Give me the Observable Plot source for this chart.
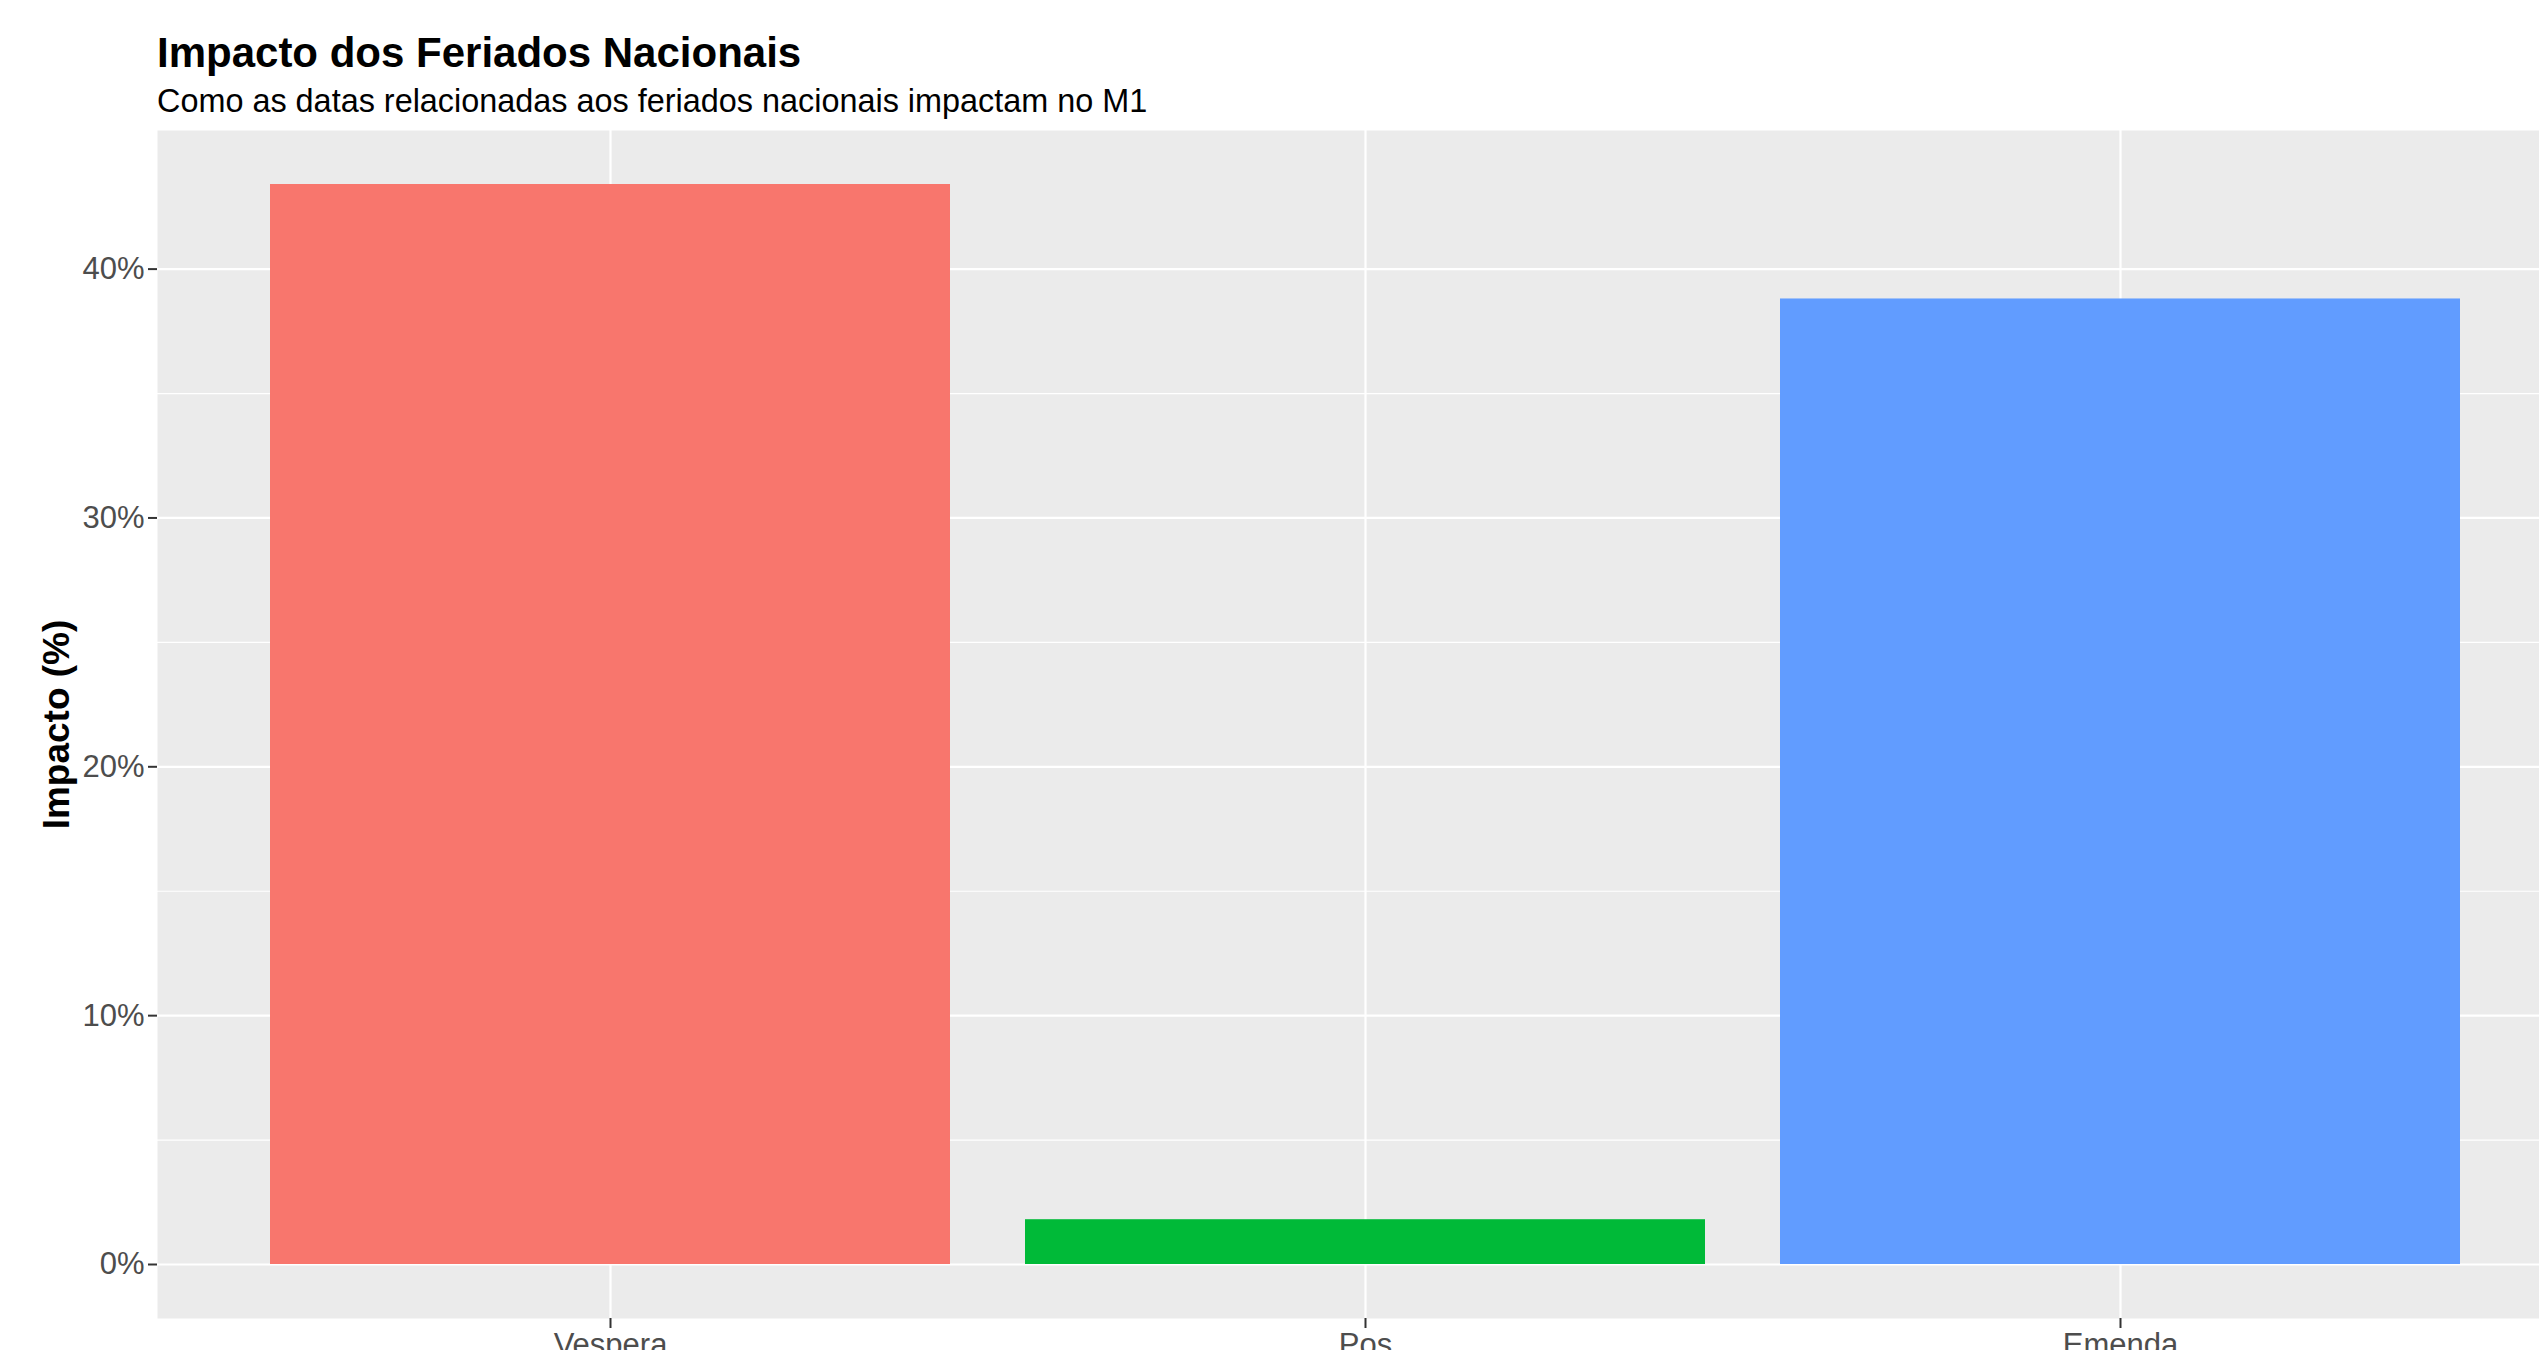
<!DOCTYPE html>
<html>
<head>
<meta charset="utf-8">
<script src="https://cdn.jsdelivr.net/npm/d3@7"></script>
<script src="https://cdn.jsdelivr.net/npm/@observablehq/plot@0.6"></script>
<style>
  html, body { margin: 0; padding: 0; background: white; overflow: hidden; }
  body { font-family: "Liberation Sans", Arial, sans-serif; width: 2539px; height: 1350px; }
  #header { position: relative; height: 120px; width: 2539px; }
  #title { position: absolute; left: 157px; top: 32px; font-size: 42px; font-weight: bold; line-height: 1; color: #000; white-space: nowrap; }
  #subtitle { position: absolute; left: 157px; top: 85px; font-size: 32.4px; line-height: 1; color: #000; white-space: nowrap; }
  #chart svg { display: block; }
</style>
</head>
<body>
<div id="header">
  <div id="title">Impacto dos Feriados Nacionais</div>
  <div id="subtitle">Como as datas relacionadas aos feriados nacionais impactam no M1</div>
</div>
<div id="chart"></div>
<script>
const categories = ["Vespera", "Pos", "Emenda"];
const impacto = [43.4, 1.8, 38.8];
const barColors = ["#F8766D", "#00BA38", "#619CFF"];
const yTicks = [0, 10, 20, 30, 40];
const yMinor = [5, 15, 25, 35];
const yLabel = "Impacto (%)";

const data = categories.map((c, i) => ({ cat: c, value: impacto[i] }));
const maxV = d3.max(impacto);

const chart = Plot.plot({
  width: 2600,
  height: 1260,
  marginLeft: 157,
  marginRight: 27,
  marginTop: 10,
  marginBottom: 62,
  style: { maxWidth: "none", fontFamily: "Liberation Sans, Arial, sans-serif", background: "white" },
  x: { domain: categories, paddingInner: 0.1, paddingOuter: 0.15, axis: null },
  y: { domain: [-0.05 * maxV, 1.05 * maxV], axis: null },
  color: { domain: categories, range: barColors },
  marks: [
    Plot.frame({ fill: "#EBEBEB", stroke: null }),
    Plot.gridY(yMinor, { stroke: "white", strokeOpacity: 1, strokeWidth: 1.2 }),
    Plot.gridY(yTicks, { stroke: "white", strokeOpacity: 1, strokeWidth: 2.2 }),
    Plot.gridX({ stroke: "white", strokeOpacity: 1, strokeWidth: 2.2 }),
    Plot.barY(data, { x: "cat", y: "value", fill: "cat" }),
    Plot.axisY(yTicks, {
      tickFormat: d => d + "%",
      tickSize: 9, tickPadding: 4, fontSize: 31,
      fill: "#4D4D4D", stroke: "#333333", strokeWidth: 2, label: null
    }),
    Plot.axisX({
      tickSize: 10, tickPadding: 4, fontSize: 31,
      fill: "#4D4D4D", stroke: "#333333", strokeWidth: 2, label: null
    }),
    Plot.text([yLabel], {
      text: d => d, frameAnchor: "left", dx: -100, rotate: -90,
      fontWeight: "bold", fontSize: 37, fill: "black",
      textAnchor: "middle", lineAnchor: "middle"
    })
  ]
});
document.getElementById("chart").appendChild(chart);
</script>
</body>
</html>
